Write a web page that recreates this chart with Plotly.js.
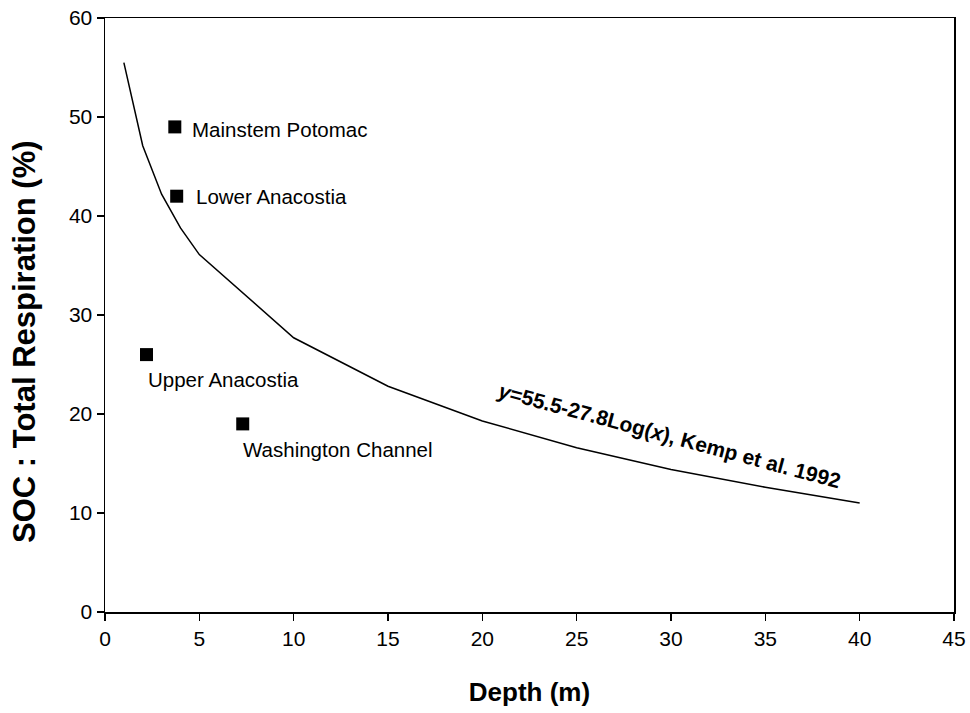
<!DOCTYPE html>
<html>
<head>
<meta charset="utf-8">
<script src="https://cdn.plot.ly/plotly-3.0.1.min.js"></script>
<style>
  html, body { margin: 0; padding: 0; background: #fff; }
  #chart { width: 970px; height: 713px; }
</style>
</head>
<body>
<div id="chart"></div>
<script>
// Kemp et al. (1992) relationship, y = 55.5 - 27.8 log(x), tabulated by depth
const curveDepth = [1, 2, 3, 4, 5, 10, 15, 20, 25, 30, 35, 40];
const curveSOC = [55.5, 47.1, 42.2, 38.8, 36.1, 27.7, 22.8, 19.3, 16.6, 14.4, 12.6, 11.0];

// Site observations
const siteNames = ["Mainstem Potomac", "Lower Anacostia", "Upper Anacostia", "Washington Channel"];
const siteDepth = [3.7, 3.8, 2.2, 7.3];
const siteSOC = [49, 42, 26, 19];

// Label offsets (pixels) for each site name relative to its marker
const labelDx = [15, 17, -1, -2];
const labelDy = [3, 0, 25, 26];

const fontFamily = "Arial, 'Liberation Sans', Helvetica, sans-serif";

const traces = [
  {
    x: curveDepth, y: curveSOC, mode: "lines", type: "scatter",
    line: { color: "#000", width: 1.5 }, hoverinfo: "skip"
  },
  {
    x: siteDepth, y: siteSOC, mode: "markers", type: "scatter",
    marker: { symbol: "square", size: 13, color: "#000" }
  }
];

const annotations = siteNames.map((name, i) => ({
  x: siteDepth[i], y: siteSOC[i], xref: "x", yref: "y",
  text: name, showarrow: false, xanchor: "left", yanchor: "middle",
  xshift: labelDx[i], yshift: -labelDy[i],
  font: { family: fontFamily, size: 20.5, color: "#000" }
}));

// Equation of the reference curve, laid along the line
annotations.push({
  x: 29.9, y: 17.8, xref: "x", yref: "y",
  text: "<b><i>y</i>=55.5-27.8Log(<i>x</i>), Kemp et al. 1992</b>",
  showarrow: false, textangle: 15,
  font: { family: fontFamily, size: 21, color: "#000" }
});

// Vertical axis title, placed slightly below the plot's mid-height
annotations.push({
  x: -0.094, y: 0.455, xref: "paper", yref: "paper",
  text: "<b>SOC : Total Respiration (%)</b>",
  showarrow: false, textangle: -90, xanchor: "center", yanchor: "middle",
  font: { family: fontFamily, size: 31, color: "#000" }
});

const layout = {
  width: 970, height: 713,
  margin: { l: 105, r: 16, t: 18, b: 101, pad: 0 },
  paper_bgcolor: "#fff", plot_bgcolor: "#fff",
  showlegend: false,
  font: { family: fontFamily, color: "#000" },
  xaxis: {
    range: [0, 45], dtick: 5, tick0: 0,
    showgrid: false, zeroline: false,
    showline: true, linecolor: "#000", linewidth: 1.5, mirror: true,
    ticks: "outside", ticklen: 7, tickwidth: 1.5, tickcolor: "#000",
    tickfont: { family: fontFamily, size: 21, color: "#000" },
    title: { text: "<b>Depth (m)</b>", font: { family: fontFamily, size: 26, color: "#000" }, standoff: 34 }
  },
  yaxis: {
    range: [0, 60], dtick: 10, tick0: 0,
    showgrid: false, zeroline: false,
    showline: true, linecolor: "#000", linewidth: 1.5, mirror: true,
    ticks: "outside", ticklen: 7, tickwidth: 1.5, tickcolor: "#000",
    tickfont: { family: fontFamily, size: 21, color: "#000" }
  },
  annotations: annotations
};

Plotly.newPlot("chart", traces, layout, { displayModeBar: false, staticPlot: true });
</script>
</body>
</html>
